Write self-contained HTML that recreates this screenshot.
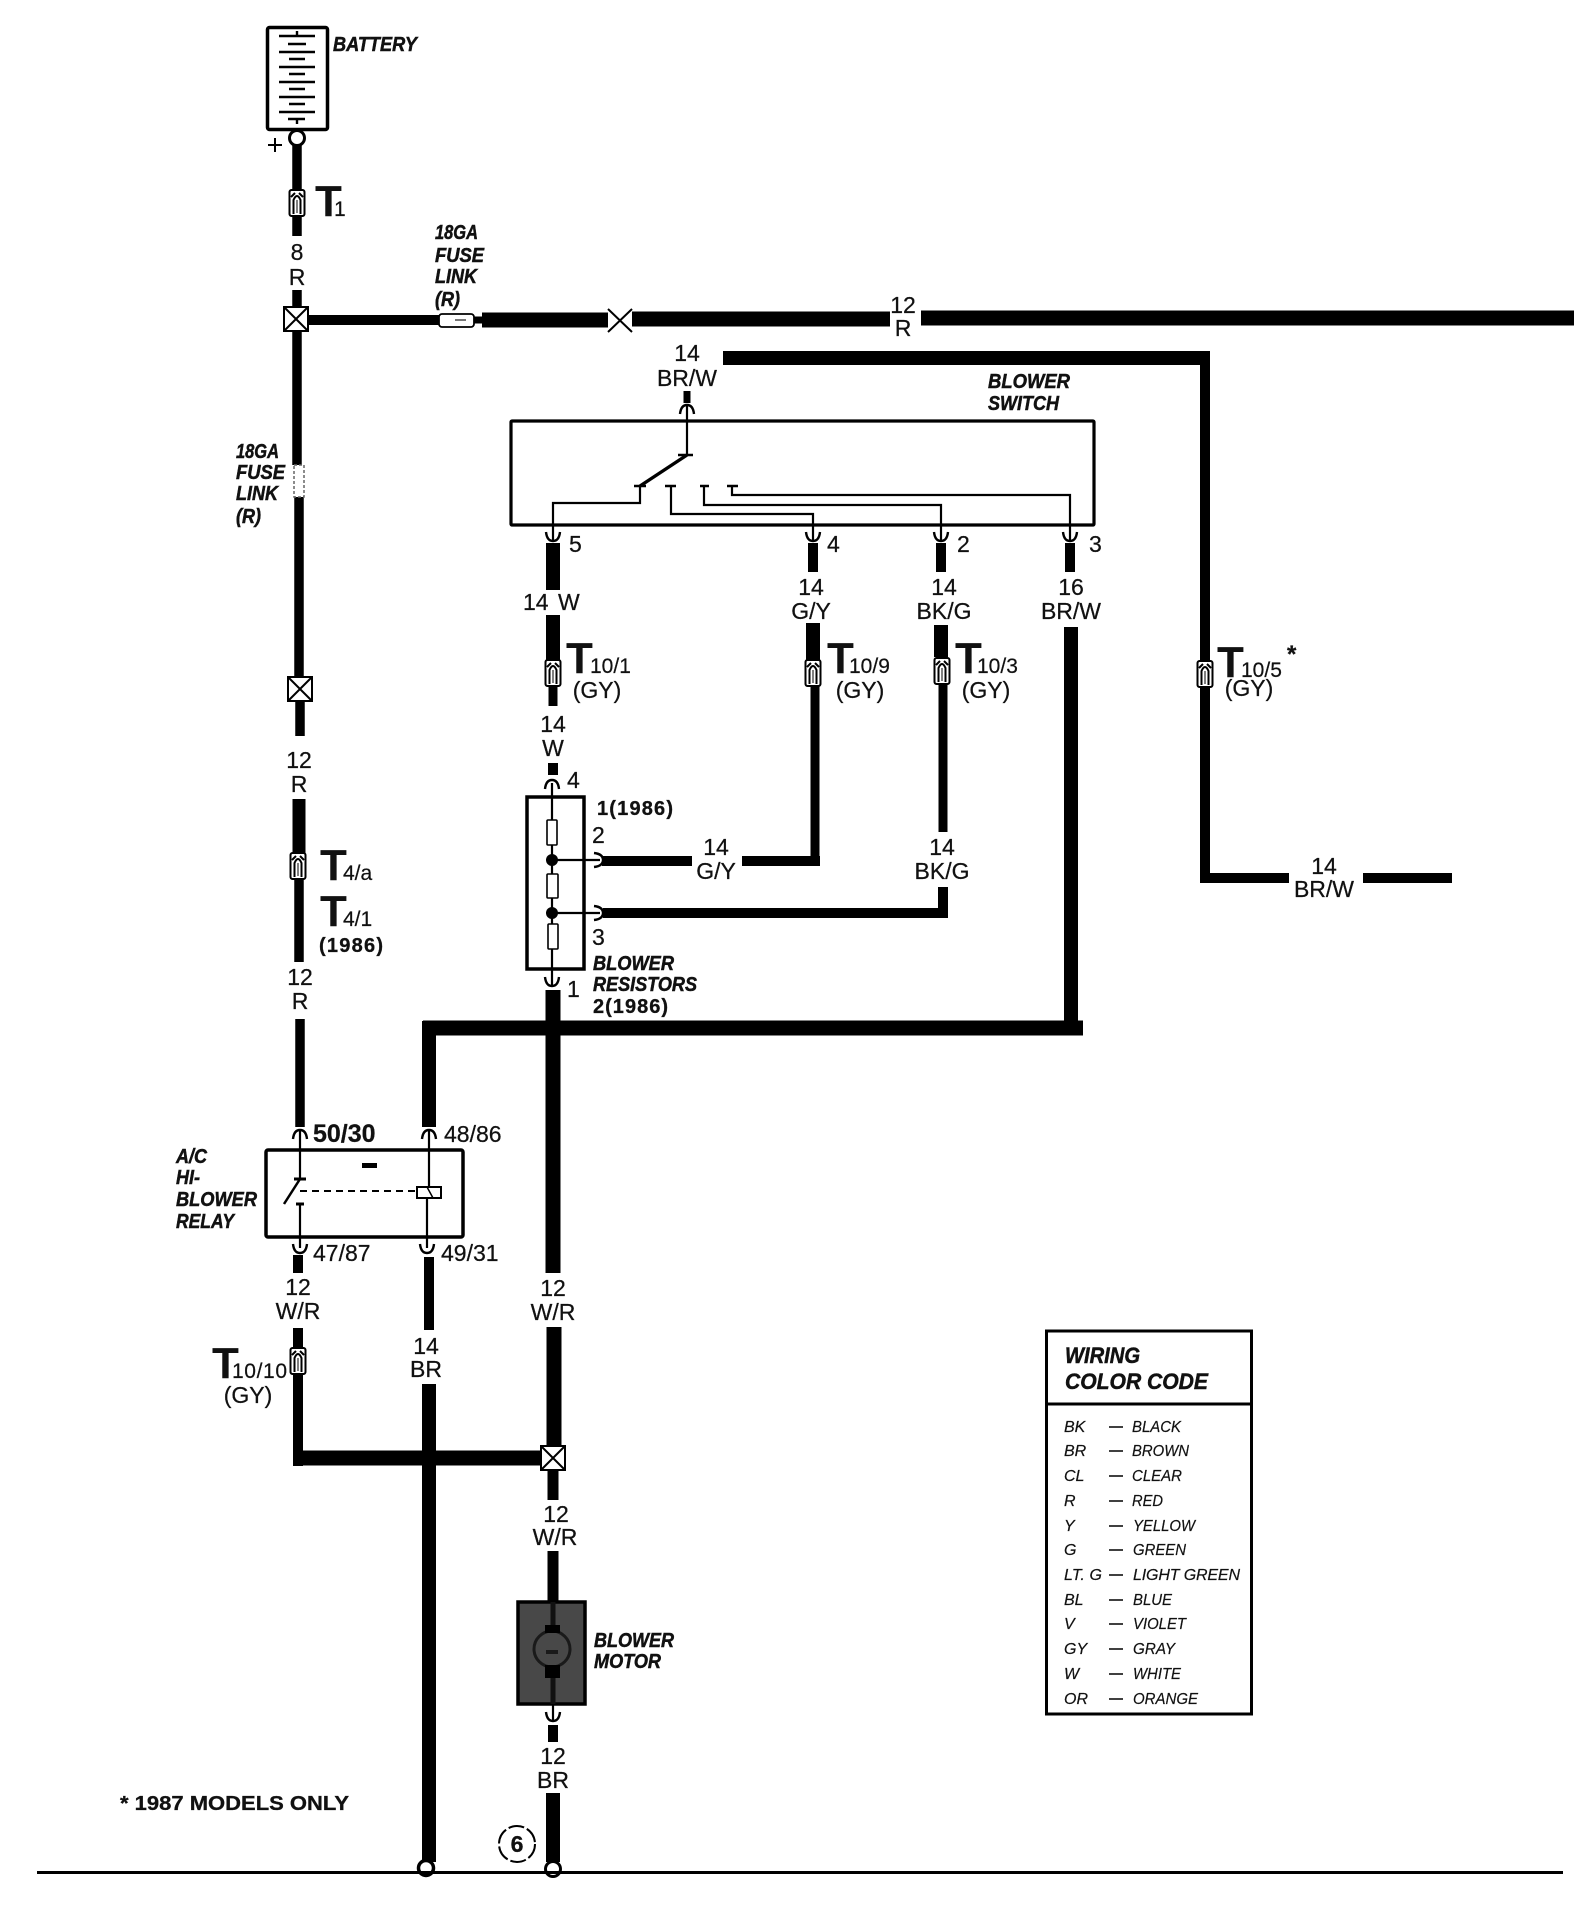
<!DOCTYPE html>
<html><head><meta charset="utf-8"><title>Blower wiring diagram</title>
<style>
html,body{margin:0;padding:0;background:#fff}
svg{display:block}
text{font-family:"Liberation Sans",sans-serif;fill:#111}
.l{font-size:23px;text-anchor:middle;stroke:#111;stroke-width:.25}
.n{font-size:23px;stroke:#111;stroke-width:.25}
.bi{font-weight:bold;font-style:italic;font-size:20px;stroke:#111;stroke-width:.5}
.b{font-weight:bold;font-size:20px;stroke:#111;stroke-width:.3}
.T{font-weight:bold;font-size:44px}
.s{font-size:21px;stroke:#111;stroke-width:.2}
.c{font-style:italic;font-size:16px;stroke:#111;stroke-width:.2}
.w{fill:none;stroke:#000}
.t{fill:none;stroke:#000;stroke-width:2.2}
</style></head><body>
<svg width="1596" height="1917" viewBox="0 0 1596 1917" xmlns="http://www.w3.org/2000/svg">
<defs>
<g id="conn"><rect x="-7.5" y="-13" width="15" height="26" rx="2" fill="#fff" stroke="#000" stroke-width="2"/><path d="M-3.5 11V-3Q0 -11 3.5 -3V11" fill="none" stroke="#000" stroke-width="2"/><path d="M-6 -6L-2 -10M6 -6L2 -10" stroke="#000" stroke-width="2"/><path d="M0 -3V10" stroke="#000" stroke-width="1"/></g>
<g id="xbox"><rect x="-12" y="-12" width="24" height="24" fill="#fff" stroke="#000" stroke-width="2"/><path d="M-12 -12L12 12M12 -12L-12 12" stroke="#000" stroke-width="2"/></g>
<path id="fd" d="M-7 -6Q-6 3 0 3Q6 3 7 -6" fill="none" stroke="#000" stroke-width="2.4"/>
<path id="fu" d="M-7 6Q-6 -3 0 -3Q6 -3 7 6" fill="none" stroke="#000" stroke-width="2.4"/>
<path id="fr" d="M-5 -7Q4 -6 4 0Q4 6 -5 7" fill="none" stroke="#000" stroke-width="2.4"/>
</defs>

<!-- battery -->
<rect x="267.5" y="27.5" width="60" height="102" rx="2" fill="#fff" stroke="#000" stroke-width="3.5"/>
<path d="M279 36H315M297 31V36M288 44H306M279 52H315M289 59H305M279 67H315M289 74H305M279 82H315M289 89H305M279 97H315M289 104H305M279 112H315M288 119H305M297 119V124" stroke="#000" stroke-width="2.4" fill="none"/>
<circle cx="297" cy="138" r="7.5" fill="#fff" stroke="#000" stroke-width="3"/>
<path d="M268 145H282M275 138V152" stroke="#000" stroke-width="2"/>
<text x="333" y="51" class="bi" textLength="84" lengthAdjust="spacingAndGlyphs">BATTERY</text>

<!-- left main wire -->
<path class="w" stroke-width="9.5" d="M297 145V236M297 290V465M299 497V676M300 702V736"/>
<path class="w" stroke-width="13" d="M299 799V855"/>
<path class="w" stroke-width="9.5" d="M299 878V962M300 1019V1127"/>
<use href="#conn" x="297" y="203"/>
<text x="315" y="216" class="T">T</text><text x="334" y="216" class="s">1</text>
<text x="297" y="260" class="l">8</text><text x="297" y="285" class="l">R</text>
<use href="#xbox" x="296" y="319"/>
<use href="#xbox" x="300" y="689"/>
<rect x="294" y="465" width="10" height="32" fill="#fff" stroke="#666" stroke-width="1.5" stroke-dasharray="3 2"/>
<text x="236" y="458" class="bi" textLength="43" lengthAdjust="spacingAndGlyphs">18GA</text>
<text x="236" y="479" class="bi" textLength="49" lengthAdjust="spacingAndGlyphs">FUSE</text>
<text x="236" y="500" class="bi" textLength="42" lengthAdjust="spacingAndGlyphs">LINK</text>
<text x="236" y="523" class="bi" textLength="25" lengthAdjust="spacingAndGlyphs">(R)</text>
<text x="299" y="768" class="l">12</text><text x="299" y="792" class="l">R</text>
<use href="#conn" x="298" y="866"/>
<text x="320" y="880" class="T">T</text><text x="343" y="880" class="s">4/a</text>
<text x="320" y="926" class="T">T</text><text x="343" y="926" class="s">4/1</text>
<text x="319" y="952" class="b" textLength="64">(1986)</text>
<text x="300" y="985" class="l">12</text><text x="300" y="1009" class="l">R</text>

<!-- top horizontal -->
<path class="w" stroke-width="10" d="M308 320H440"/>
<rect x="439" y="314" width="35" height="13" rx="3" fill="#fff" stroke="#000" stroke-width="1.8"/>
<path d="M455 320H466" stroke="#777" stroke-width="2"/>
<path class="w" stroke-width="7" d="M474 320H483"/>
<path class="w" stroke-width="15" d="M482 320H608M632 319H890M921 318H1574"/>
<path d="M608 309L632 332M632 309L608 332" stroke="#000" stroke-width="2"/>
<text x="435" y="239" class="bi" textLength="43" lengthAdjust="spacingAndGlyphs">18GA</text>
<text x="435" y="262" class="bi" textLength="49" lengthAdjust="spacingAndGlyphs">FUSE</text>
<text x="435" y="283" class="bi" textLength="42" lengthAdjust="spacingAndGlyphs">LINK</text>
<text x="435" y="306" class="bi" textLength="25" lengthAdjust="spacingAndGlyphs">(R)</text>
<text x="903" y="313" class="l">12</text><text x="903" y="336" class="l">R</text>

<!-- BR/W wire right -->
<path class="w" stroke-width="14" d="M723 358H1206"/>
<path class="w" stroke-width="10" d="M1205 351V878M1200 878H1289M1363 878H1452"/>
<use href="#conn" x="1205" y="674"/>
<text x="1217" y="677" class="T">T</text><text x="1241" y="677" class="s">10/5</text><text x="1287" y="662" class="b" style="font-size:24px">*</text>
<text x="1249" y="696" class="l">(GY)</text>
<text x="1324" y="874" class="l">14</text><text x="1324" y="897" class="l">BR/W</text>

<!-- switch -->
<text x="687" y="361" class="l">14</text><text x="687" y="386" class="l">BR/W</text>
<path class="w" stroke-width="7" d="M687 391V403"/>
<use href="#fu" x="687" y="408"/>
<path class="t" d="M687 405V455"/>
<rect x="511" y="421" width="583" height="104" rx="1" fill="none" stroke="#000" stroke-width="3.2"/>
<path d="M687 455L640 486" stroke="#000" stroke-width="3.4"/>
<path d="M678 455H693M634 486H646M665 486H676M700 486H709M727 486H738" stroke="#000" stroke-width="2.6"/>
<path class="t" d="M640 486V503H553V540M671 486V514H813V540M704 486V505H941V540M732 486V495H1070V540"/>
<use href="#fd" x="553" y="538"/><use href="#fd" x="813" y="538"/><use href="#fd" x="941" y="538"/><use href="#fd" x="1070" y="538"/>
<text x="569" y="552" class="n">5</text><text x="827" y="552" class="n">4</text><text x="957" y="552" class="n">2</text><text x="1089" y="552" class="n">3</text>
<text x="988" y="388" class="bi" textLength="82" lengthAdjust="spacingAndGlyphs">BLOWER</text>
<text x="988" y="410" class="bi" textLength="71" lengthAdjust="spacingAndGlyphs">SWITCH</text>

<!-- wire 5 -->
<path class="w" stroke-width="14" d="M553 543V590M553 615V660"/>
<path class="w" stroke-width="9" d="M553 685V706"/>
<text x="523" y="610" class="n">14</text><text x="558" y="610" class="n">W</text>
<use href="#conn" x="553" y="673"/>
<text x="566" y="673" class="T">T</text><text x="590" y="673" class="s">10/1</text>
<text x="597" y="698" class="l">(GY)</text>
<text x="553" y="732" class="l">14</text><text x="553" y="756" class="l">W</text>
<path class="w" stroke-width="10" d="M553 763V775"/>
<use href="#fu" x="552" y="783"/>
<text x="567" y="788" class="n">4</text>

<!-- wire 4 -->
<path class="w" stroke-width="10" d="M813 543V572"/>
<path class="w" stroke-width="14" d="M813 623V660"/>
<path class="w" stroke-width="9" d="M815 686V865"/>
<text x="811" y="595" class="l">14</text><text x="811" y="619" class="l">G/Y</text>
<use href="#conn" x="813" y="673"/>
<text x="827" y="673" class="T">T</text><text x="849" y="673" class="s">10/9</text>
<text x="860" y="698" class="l">(GY)</text>
<path class="w" stroke-width="10" d="M602 861H692M742 861H820"/>
<text x="716" y="855" class="l">14</text><text x="716" y="879" class="l">G/Y</text>

<!-- wire 2 -->
<path class="w" stroke-width="10" d="M941 543V572"/>
<path class="w" stroke-width="14" d="M941 625V657"/>
<path class="w" stroke-width="9" d="M943 685V832"/>
<text x="944" y="595" class="l">14</text><text x="944" y="619" class="l">BK/G</text>
<use href="#conn" x="942" y="671"/>
<text x="955" y="673" class="T">T</text><text x="977" y="673" class="s">10/3</text>
<text x="986" y="698" class="l">(GY)</text>
<text x="942" y="855" class="l">14</text><text x="942" y="879" class="l">BK/G</text>
<path class="w" stroke-width="10" d="M943 887V918M603 913H948"/>

<!-- wire 3 -->
<path class="w" stroke-width="10" d="M1070 543V572"/>
<path class="w" stroke-width="14" d="M1071 627V1035"/>
<text x="1071" y="595" class="l">16</text><text x="1071" y="619" class="l">BR/W</text>
<path class="w" stroke-width="15" d="M423 1028H1083"/>
<path class="w" stroke-width="14" d="M429 1021V1127"/>

<!-- resistors -->
<rect x="527" y="797" width="57" height="172" fill="#fff" stroke="#000" stroke-width="3.5"/>
<path class="t" d="M552 783V985M552 860H600M552 913H600"/>
<rect x="547" y="820" width="10" height="25" rx="1" fill="#fff" stroke="#000" stroke-width="1.6"/>
<rect x="547" y="874" width="11" height="24" rx="1" fill="#fff" stroke="#000" stroke-width="1.6"/>
<rect x="548" y="924" width="10" height="25" rx="1" fill="#fff" stroke="#000" stroke-width="1.6"/>
<circle cx="552" cy="860" r="6"/><circle cx="552" cy="913" r="6"/>
<use href="#fr" x="599" y="860"/><use href="#fr" x="599" y="913"/>
<use href="#fd" x="552" y="983"/>
<text x="592" y="843" class="n">2</text><text x="592" y="945" class="n">3</text><text x="567" y="997" class="n">1</text>
<text x="597" y="815" class="b" textLength="76">1(1986)</text>
<text x="593" y="970" class="bi" textLength="81" lengthAdjust="spacingAndGlyphs">BLOWER</text>
<text x="593" y="991" class="bi" textLength="104" lengthAdjust="spacingAndGlyphs">RESISTORS</text>
<text x="593" y="1013" class="b" textLength="75">2(1986)</text>

<!-- center wire -->
<path class="w" stroke-width="15" d="M553 990V1273M554 1327V1446"/>
<text x="553" y="1296" class="l">12</text><text x="553" y="1320" class="l">W/R</text>

<!-- relay -->
<use href="#fu" x="300" y="1133"/><use href="#fu" x="429" y="1133"/>
<text x="313" y="1142" class="n" style="font-size:25px;font-weight:bold">50/30</text>
<text x="444" y="1142" class="n">48/86</text>
<text x="313" y="1261" class="n">47/87</text>
<text x="441" y="1261" class="n">49/31</text>
<rect x="266" y="1150" width="197" height="87" rx="2" fill="#fff" stroke="#000" stroke-width="3.5"/>
<path class="t" d="M300 1130V1179M300 1204V1248M429 1130V1187M427 1198V1248"/>
<path d="M300 1179L284 1204" stroke="#000" stroke-width="2.5"/>
<path d="M294 1179H306M296 1204H304" stroke="#000" stroke-width="3"/>
<path d="M300 1191H416" stroke="#000" stroke-width="2" stroke-dasharray="7 5"/>
<path d="M362 1165.5H377" stroke="#000" stroke-width="5"/>
<rect x="417" y="1187" width="24" height="11" fill="#fff" stroke="#000" stroke-width="2"/>
<path d="M427 1187L433 1198" stroke="#000" stroke-width="1.5"/>
<use href="#fd" x="300" y="1250"/><use href="#fd" x="427" y="1250"/>
<text x="176" y="1163" class="bi" textLength="31" lengthAdjust="spacingAndGlyphs">A/C</text>
<text x="176" y="1184" class="bi" textLength="24" lengthAdjust="spacingAndGlyphs">HI-</text>
<text x="176" y="1206" class="bi" textLength="81" lengthAdjust="spacingAndGlyphs">BLOWER</text>
<text x="176" y="1228" class="bi" textLength="58" lengthAdjust="spacingAndGlyphs">RELAY</text>

<!-- below relay -->
<path class="w" stroke-width="10" d="M298 1255V1273M298 1328V1348M298 1374V1466M429 1257V1330"/>
<text x="298" y="1295" class="l">12</text><text x="298" y="1319" class="l">W/R</text>
<use href="#conn" x="298" y="1361"/>
<text x="212" y="1378" class="T">T</text><text x="232" y="1378" class="s" textLength="55">10/10</text>
<text x="248" y="1403" class="l">(GY)</text>
<text x="426" y="1354" class="l">14</text><text x="426" y="1377" class="l">BR</text>
<path class="w" stroke-width="14" d="M429 1384V1862"/>
<path class="w" stroke-width="15" d="M293 1458H542"/>
<use href="#xbox" x="553" y="1458"/>

<!-- motor -->
<path class="w" stroke-width="11" d="M553 1470V1500M553 1551V1601"/>
<text x="556" y="1522" class="l">12</text><text x="555" y="1545" class="l">W/R</text>
<rect x="518" y="1602" width="67" height="102" fill="#484848" stroke="#000" stroke-width="3.5"/>
<path d="M553 1602V1704" stroke="#111" stroke-width="5"/>
<circle cx="552" cy="1649" r="18" fill="#484848" stroke="#1a1a1a" stroke-width="3"/>
<path d="M545 1625H560V1633H545ZM545 1665H560V1678H545Z" fill="#000"/>
<path d="M546 1652H558" stroke="#1a1a1a" stroke-width="4"/>
<text x="594" y="1647" class="bi" textLength="80" lengthAdjust="spacingAndGlyphs">BLOWER</text>
<text x="594" y="1668" class="bi" textLength="67" lengthAdjust="spacingAndGlyphs">MOTOR</text>
<path class="t" d="M553 1704V1720"/>
<use href="#fd" x="553" y="1718"/>
<path class="w" stroke-width="10" d="M553 1725V1742"/>
<text x="553" y="1764" class="l">12</text><text x="553" y="1788" class="l">BR</text>
<path class="w" stroke-width="14" d="M553 1793V1862"/>

<!-- ground -->
<circle cx="426" cy="1868" r="7.5" fill="#fff" stroke="#000" stroke-width="3.5"/>
<circle cx="553" cy="1869" r="7.5" fill="#fff" stroke="#000" stroke-width="3"/>
<rect x="37" y="1871" width="1526" height="3" fill="#000"/>
<circle cx="517" cy="1844" r="18" fill="#fff" stroke="#000" stroke-width="2" stroke-dasharray="16 3"/>
<text x="517" y="1852" class="b" style="font-size:23px;text-anchor:middle">6</text>
<text x="120" y="1810" class="b" textLength="229" lengthAdjust="spacingAndGlyphs">* 1987 MODELS ONLY</text>

<!-- legend -->
<rect x="1046.5" y="1331" width="205" height="383" fill="#fff" stroke="#000" stroke-width="3"/>
<path d="M1046 1404H1252" stroke="#000" stroke-width="3"/>
<text x="1065" y="1363" class="bi" style="font-size:22px" textLength="75" lengthAdjust="spacingAndGlyphs">WIRING</text>
<text x="1065" y="1389" class="bi" style="font-size:22px" textLength="143" lengthAdjust="spacingAndGlyphs">COLOR CODE</text>
<g>
<text x="1064" y="1432" class="c">BK</text><text x="1132" y="1432" class="c" textLength="49" lengthAdjust="spacingAndGlyphs">BLACK</text>
<text x="1064" y="1456" class="c">BR</text><text x="1132" y="1456" class="c" textLength="57" lengthAdjust="spacingAndGlyphs">BROWN</text>
<text x="1064" y="1481" class="c">CL</text><text x="1132" y="1481" class="c" textLength="50" lengthAdjust="spacingAndGlyphs">CLEAR</text>
<text x="1064" y="1506" class="c">R</text><text x="1132" y="1506" class="c" textLength="31" lengthAdjust="spacingAndGlyphs">RED</text>
<text x="1064" y="1531" class="c">Y</text><text x="1133" y="1531" class="c" textLength="62" lengthAdjust="spacingAndGlyphs">YELLOW</text>
<text x="1064" y="1555" class="c">G</text><text x="1133" y="1555" class="c" textLength="53" lengthAdjust="spacingAndGlyphs">GREEN</text>
<text x="1064" y="1580" class="c" textLength="38">LT. G</text><text x="1133" y="1580" class="c" textLength="107" lengthAdjust="spacing">LIGHT GREEN</text>
<text x="1064" y="1605" class="c">BL</text><text x="1133" y="1605" class="c" textLength="39" lengthAdjust="spacingAndGlyphs">BLUE</text>
<text x="1064" y="1629" class="c">V</text><text x="1133" y="1629" class="c" textLength="53" lengthAdjust="spacingAndGlyphs">VIOLET</text>
<text x="1064" y="1654" class="c">GY</text><text x="1133" y="1654" class="c" textLength="42" lengthAdjust="spacingAndGlyphs">GRAY</text>
<text x="1064" y="1679" class="c">W</text><text x="1133" y="1679" class="c" textLength="48" lengthAdjust="spacingAndGlyphs">WHITE</text>
<text x="1064" y="1704" class="c">OR</text><text x="1133" y="1704" class="c" textLength="65" lengthAdjust="spacingAndGlyphs">ORANGE</text>
</g>
<path d="M1109 1427H1123M1109 1451H1123M1109 1476H1123M1109 1501H1123M1109 1526H1123M1109 1550H1123M1109 1575H1123M1109 1600H1123M1109 1624H1123M1109 1649H1123M1109 1674H1123M1109 1699H1123" stroke="#000" stroke-width="1.6"/>
</svg>
</body></html>
